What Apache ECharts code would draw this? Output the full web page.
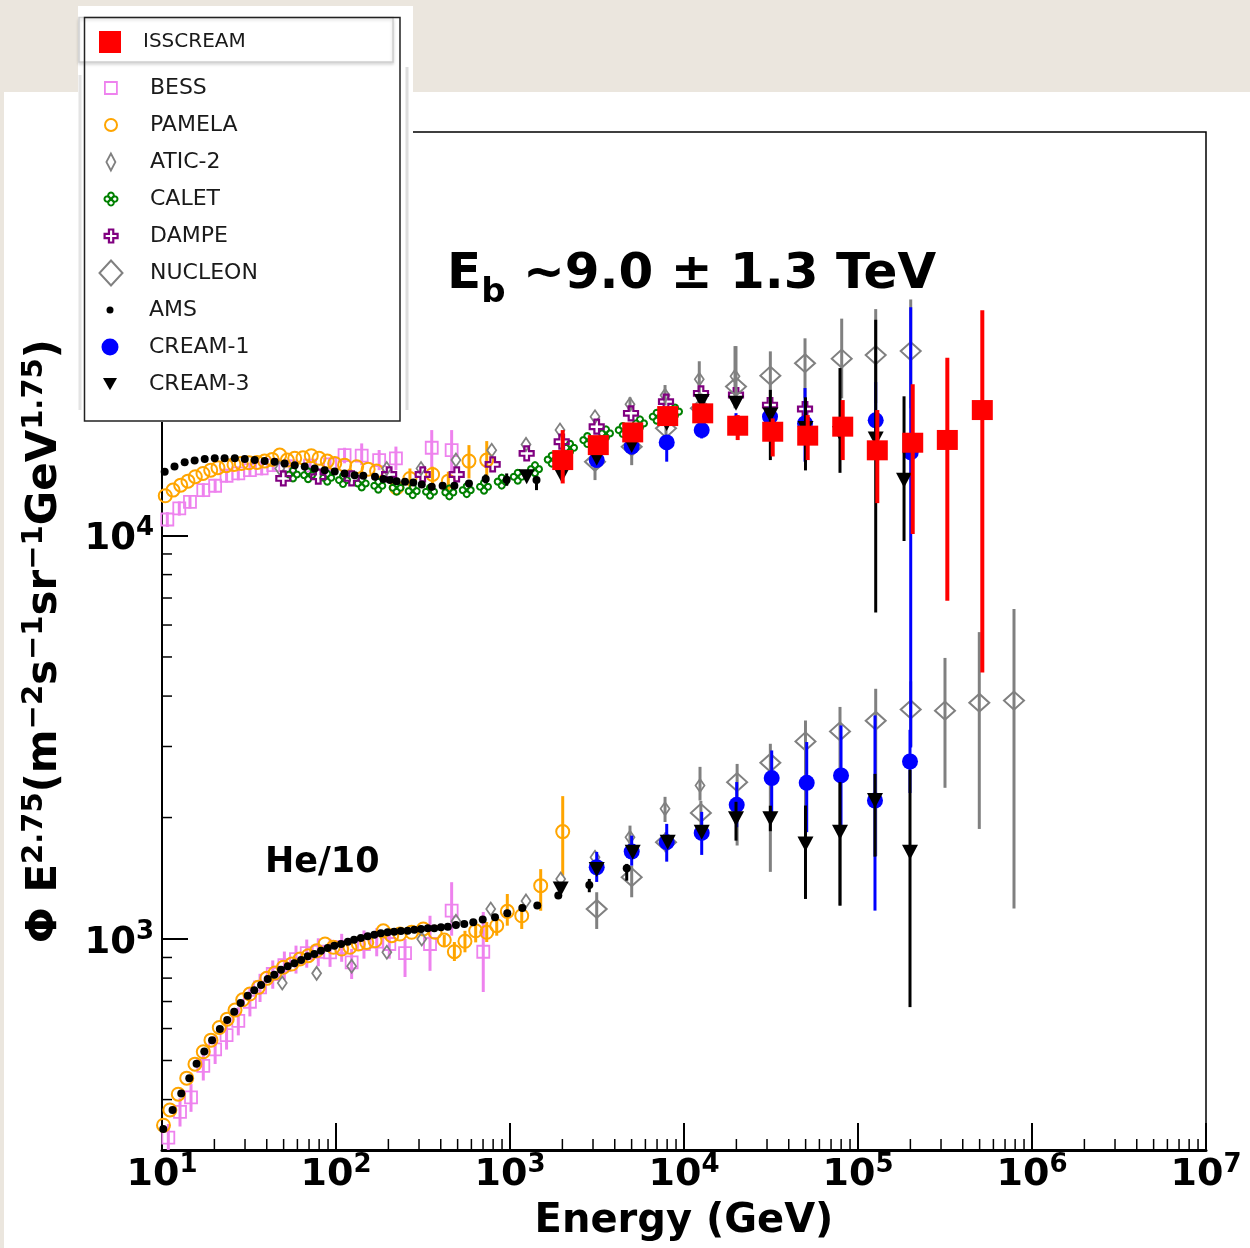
<!DOCTYPE html>
<html>
<head>
<meta charset="utf-8">
<script src="https://cdn.jsdelivr.net/npm/echarts@6/dist/echarts.min.js"></script>
<style>
html,body{margin:0;padding:0;background:#ffffff;}
#c{width:1250px;height:1248px;}
</style>
</head>
<body>
<div id="c"></div>
<script>
// ---------------- tick labels ----------------
const xTickExponents = [1, 2, 3, 4, 5, 6, 7];
const yTickExponents = [3, 4];
const minorMultipliers = [2, 3, 4, 5, 6, 7, 8, 9];

// ---------------- data: [E (GeV), flux, errLow, errHigh] ----------------
// protons
const isscreamP = [
  [2009, 15380, 13460, 18250], [3217, 16750, 16200, 17300], [5073, 18010, 17500, 18500],
  [8060, 19770, 19100, 20500], [12810, 20080, 19200, 21000], [20350, 18710, 17240, 19880],
  [32350, 18080, 15700, 19510], [51400, 17680, 15380, 19880], [81700, 18610, 15380, 21660],
  [129100, 16260, 12030, 20460], [206300, 16980, 10090, 23720], [326100, 17250, 6887, 27570],
  [518100, 20460, 4576, 36160]
];
const bessP = [
  [10.73, 10958, 10500, 11430], [12.57, 11668, 11200, 12150], [14.48, 12122, 11650, 12600],
  [17.27, 12956, 12450, 13480], [20.2, 13285, 12770, 13820], [23.5, 14063, 13520, 14630],
  [27.45, 14250, 13700, 14820], [32.0, 14521, 13960, 15100], [37.4, 14660, 14090, 15250],
  [43.6, 14942, 14360, 15540], [54.4, 14830, 14250, 15430], [70.9, 14900, 14320, 15500],
  [92.4, 15000, 14420, 15600], [112, 15823, 15100, 16500], [140.5, 15770, 14942, 16915],
  [177, 15378, 14520, 16290], [221, 15530, 14520, 16610], [355, 16500, 14660, 18250],
  [462, 16270, 14250, 18250]
];
const pamelaP = [
  [10.44, 12547], [11.57, 12956], [12.81, 13330], [14.1, 13637], [15.54, 13986], [17.2, 14250],
  [19.05, 14521], [20.98, 14723], [23.41, 14893], [25.93, 15003], [28.56, 15090], [31.6, 15150],
  [35.2, 15175], [38.9, 15290], [43.0, 15440], [47.5, 15823], [52.5, 15378], [57.9, 15530],
  [64.6, 15590], [72.1, 15770], [79.9, 15530], [89.1, 15290], [98.3, 15090], [112, 14942],
  [131.5, 14807], [153, 14604], [171, 14440], [223, 13132],
  [266, 13850, 13130, 14660], [359, 14168, 13330, 14807], [442, 13637, 12956, 14390],
  [581, 15290, 13850, 16750], [735, 15378, 13850, 17140]
];
const aticP = [
  [47.5, 14660], [195.6, 14660], [308, 14660], [489, 15378], [785, 16270], [1236, 16820],
  [1938, 18250], [3080, 19700], [4894, 21140, 20300, 22000], [7780, 22260, 21000, 23600],
  [12240, 24390, 21880, 27030], [19640, 24800, 20670, 29470]
];
const caletP = [
  [56.6, 14168], [69.1, 14110], [89.1, 13906], [109.7, 13720], [140.5, 13460], [175, 13285],
  [223, 13132], [276, 12883], [347, 12840], [448, 12790], [564, 12956], [709, 13210],
  [896, 13600], [1108, 13986], [1392, 14604], [1737, 15420], [2213, 16500], [2782, 17240],
  [3562, 17910], [4444, 18250], [5586, 18960], [6968, 19700], [8880, 20280]
];
const dampeP = [
  [49.8, 13850], [79.1, 13986], [123, 13850], [202, 14168], [315, 14168], [494, 14168],
  [795, 15003], [1247, 15977], [1982, 17080], [3150, 18605], [4960, 20080], [7880, 21470],
  [12520, 22510], [19900, 22290], [31210, 21050], [49600, 20580]
];
const nucleonP = [
  [3080, 15230, 13720, 16440], [5005, 16600, 14940, 17710], [7880, 18430, 17500, 19400],
  [12500, 20660, 19000, 22500], [19900, 23390, 20660, 29470], [31350, 24900, 20660, 28600],
  [49600, 26720, 21880, 30810], [80600, 27430, 21880, 34470], [126400, 28000, 21280, 36400],
  [200900, 28650, 20660, 38460]
];
const amsP = [
  [10.36, 14390], [11.8, 14830], [13.5, 15180], [15.4, 15350], [17.6, 15470], [20.1, 15530],
  [22.9, 15530], [26.2, 15530], [29.9, 15470], [34.1, 15380], [38.9, 15290], [44.4, 15230],
  [50.7, 15090], [57.9, 14940], [66.1, 14830], [75.4, 14660], [86.1, 14520], [98.3, 14410],
  [112, 14250], [128, 14110], [143.5, 14060], [167.6, 13986], [187, 13800], [204.3, 13720],
  [223, 13637], [249.3, 13590], [278, 13530], [311, 13380], [355, 13210], [410, 13280],
  [479, 13280], [581, 13460], [725, 13800, 13460, 14170], [957, 13750, 13285, 14250],
  [1420, 13720, 12956, 13986]
];
const cream1P = [
  [3150, 15378, 14800, 16000], [5005, 16600, 15900, 17300], [7956, 17010, 15240, 17720],
  [12640, 18250, 17400, 19100], [19900, 18960, 17800, 20100], [31210, 19700, 18500, 20900],
  [49600, 18960, 15240, 23200], [126400, 19290, 15500, 24000], [200900, 16070, 2984, 36790]
];
const cream3P = [
  [1247, 13986], [1982, 14110], [3150, 15530], [5005, 16720], [7956, 18960], [12640, 21470],
  [19900, 21280], [31350, 19880, 15380, 22960], [49900, 18420, 14500, 22000],
  [78800, 17910, 14300, 26000], [126400, 17340, 6446, 34240], [183900, 13710, 9691, 22130]
];
// helium (/10)
const bessHe = [
  [10.87, 322, 296, 348], [12.69, 373, 343, 403], [14.68, 405, 373, 437], [17.27, 485, 446, 524],
  [20.2, 533, 490, 576], [23.5, 578, 532, 624], [27.45, 627, 577, 677], [32.0, 699, 643, 755],
  [36.6, 759, 698, 820], [43.3, 819, 753, 885], [50.5, 862, 793, 931], [58.9, 892, 821, 963],
  [67.9, 923, 849, 997], [79.1, 930, 856, 1004], [92.4, 927, 853, 1001], [107.8, 954, 878, 1030],
  [123, 875, 796, 945], [144.8, 972, 894, 1050], [171.4, 985, 906, 1064], [202.5, 972, 894, 1050],
  [249.3, 923, 805, 1000], [347, 972, 834, 1142], [462, 1176, 1019, 1383], [702, 930, 739, 1167]
];
const pamelaHe = [
  [10.2, 345.5], [11.1, 377], [12.4, 412.5], [13.87, 452], [15.47, 489.6], [17.27, 525.4],
  [19.12, 561.5], [21.35, 603.7], [23.7, 633], [26.28, 666.6], [29.1, 707], [32.0, 730.6],
  [35.8, 759], [40.0, 799], [44.6, 823.5], [49.8, 851], [55.7, 867], [62.1, 892], [69.3, 909],
  [77.4, 935], [86.5, 972], [96.5, 954], [107.8, 944.5], [120.3, 954], [134.4, 972],
  [150.2, 981], [167.6, 990], [187, 1048], [209, 1019], [233, 1029], [272, 1039], [317.5, 1059],
  [371, 1039], [419, 994, 955, 1023], [479, 930, 882, 983], [551, 987, 927, 1048],
  [635, 1048, 981, 1110], [735, 1039, 983, 1102], [839, 1079, 1019, 1143],
  [965, 1171, 1079, 1293], [1168, 1142, 1059, 1221], [1501, 1356, 1175, 1490],
  [2009, 1846, 1436, 2260]
];
const aticHe = [
  [49.1, 778], [77.4, 822], [123, 856], [196, 927], [311, 1000], [489, 1106], [775, 1187],
  [1236, 1243], [1956, 1409], [3080, 1595], [4894, 1788, 1672, 1910], [7780, 2102, 1950, 2251],
  [12360, 2401, 2204, 2671]
];
const nucleonHe = [
  [3150, 1187, 1059, 1306], [5005, 1423, 1269, 1520], [7880, 1738, 1640, 1840],
  [12500, 2054, 1900, 2200], [20200, 2448, 1705, 2716], [31350, 2734, 1467, 3047],
  [49900, 3088, 1257, 3480], [78800, 3269, 1210, 3760], [126400, 3475, 1606, 4170],
  [200900, 3705, 3000, 4350], [316200, 3680, 2370, 4973], [497800, 3851, 1874, 5762],
  [788000, 3898, 1190, 6575]
];
const amsHe = [
  [10.17, 338], [11.5, 377], [12.9, 414], [14.35, 452], [15.8, 491], [17.5, 526], [19.4, 561],
  [21.5, 598], [23.7, 630], [26.0, 660], [28.3, 694], [31.1, 723], [33.9, 747], [37.1, 769],
  [40.5, 796], [44.2, 815], [48.3, 839], [52.8, 856], [57.6, 871], [63.0, 887], [68.8, 906],
  [75.1, 918], [82.0, 935], [89.6, 950], [97.8, 962], [107, 972], [117, 985], [127, 996],
  [139, 1006], [152, 1016], [166, 1025], [181, 1033], [198, 1039], [216, 1043], [236, 1047],
  [258, 1049], [282, 1055], [308, 1059], [337, 1063], [367, 1063], [401, 1069], [439, 1073],
  [489, 1083], [546, 1089], [615, 1100], [697, 1117], [820, 1132], [965, 1158], [1177, 1194],
  [1435, 1210], [1895, 1281], [2856, 1361, 1306, 1409], [4686, 1497, 1395, 1535]
];
const cream1He = [
  [3150, 1506, 1385, 1644], [5005, 1647, 1520, 1804], [7956, 1738, 1555, 1929],
  [12640, 1832, 1616, 2066], [20090, 2150, 1893, 2449], [31920, 2505, 2043, 2933],
  [50730, 2438, 1840, 3077], [79870, 2543, 1900, 3383], [125200, 2204, 1176, 3582],
  [199000, 2754, 2300, 3300]
];
const cream3He = [
  [1956, 1331], [3150, 1486], [5073, 1641], [8060, 1738], [12640, 1840],
  [19900, 1985, 1753, 2188], [31350, 1985, 1850, 2140], [49900, 1720, 1257, 2142],
  [78800, 1840, 1210, 2448], [125200, 2204, 1600, 2566], [199000, 1641, 678, 2627]
];

// ---------------- styles ----------------
const FONT = 'DejaVu Sans';
const CLEAR = 'rgba(0,0,0,0)';
function ring(cx, cy, r) {
  let s = '';
  for (let i = 0; i <= 12; i++) {
    const a = i / 12 * 2 * Math.PI;
    s += (i ? 'L' : 'M') + (cx + r * Math.cos(a)).toFixed(2) + ',' + (cy + r * Math.sin(a)).toFixed(2);
  }
  return s + 'Z';
}
const CLOVER = 'path://' + ring(0, -3, 2.3) + ring(3, 0, 2.3) + ring(0, 3, 2.3) + ring(-3, 0, 2.3);
const PLUS = 'path://M-1,-3L1,-3L1,-1L3,-1L3,1L1,1L1,3L-1,3L-1,1L-3,1L-3,-1L-1,-1Z';
const TRI_DOWN = 'path://M0,0L2,0L1,1.75Z';

const STY = {
  'BESS':     {symbol: 'rect', size: 12, item: {color: CLEAR, borderColor: '#ee82ee', borderWidth: 1.8}, bar: '#ee82ee', barW: 3},
  'PAMELA':   {symbol: 'circle', size: 13, item: {color: CLEAR, borderColor: '#ffa500', borderWidth: 2}, bar: '#ffa500', barW: 3},
  'ATIC-2':   {symbol: 'diamond', size: [9, 13], item: {color: CLEAR, borderColor: '#808080', borderWidth: 1.8}, bar: '#808080', barW: 3},
  'CALET':    {symbol: CLOVER, size: 14, item: {color: CLEAR, borderColor: '#008000', borderWidth: 2}, bar: '#008000', barW: 3},
  'DAMPE':    {symbol: PLUS, size: 14, item: {color: CLEAR, borderColor: '#800080', borderWidth: 2.2}, bar: '#800080', barW: 3},
  'NUCLEON':  {symbol: 'diamond', size: [20, 18], item: {color: CLEAR, borderColor: '#808080', borderWidth: 2}, bar: '#808080', barW: 3},
  'AMS':      {symbol: 'circle', size: 8, item: {color: '#000000'}, bar: '#000000', barW: 3},
  'CREAM-1':  {symbol: 'circle', size: 16, item: {color: '#0000ff'}, bar: '#0000ff', barW: 3},
  'CREAM-3':  {symbol: TRI_DOWN, size: [16, 15], item: {color: '#000000'}, bar: '#000000', barW: 3},
  'ISSCREAM': {symbol: 'rect', size: [21, 20], item: {color: '#ff0000'}, bar: '#ff0000', barW: 4}
};

const sets = [
  ['BESS', [bessP, bessHe]],
  ['PAMELA', [pamelaP, pamelaHe]],
  ['ATIC-2', [aticP, aticHe]],
  ['CALET', [caletP]],
  ['DAMPE', [dampeP]],
  ['NUCLEON', [nucleonP, nucleonHe]],
  ['AMS', [amsP, amsHe]],
  ['CREAM-1', [cream1P, cream1He]],
  ['CREAM-3', [cream3P, cream3He]],
  ['ISSCREAM', [isscreamP]]
];

function errSeries(name, data, color, width, z) {
  return {
    type: 'custom', name: name, data: data, z: z, silent: true, clip: true,
    dimensions: ['x', 'y', 'lo', 'hi'],
    encode: {x: 0, y: 1},
    renderItem: function (params, api) {
      const x = api.value(0), lo = api.value(2), hi = api.value(3);
      if (!(hi > lo)) return null;
      const a = api.coord([x, lo]), b = api.coord([x, hi]);
      return {type: 'line', shape: {x1: a[0], y1: a[1], x2: b[0], y2: b[1]},
              style: {stroke: color, lineWidth: width}};
    }
  };
}

const series = [];
sets.forEach(function (s, i) {
  const name = s[0], st = STY[name];
  s[1].forEach(function (arr) {
    series.push(errSeries(name, arr, st.bar, st.barW, 3 + i));
    series.push({
      type: 'scatter', name: name, data: arr, z: 3 + i, silent: true,
      symbol: st.symbol, symbolSize: st.size,
      itemStyle: Object.assign({opacity: 1}, st.item),
      emphasis: {disabled: true}
    });
  });
});

// minor ticks (log positions 2..9 within each decade)
const xMinor = [], yMinor = [];
for (let d = 1; d <= 6; d++) minorMultipliers.forEach(m => xMinor.push([m * Math.pow(10, d), 300]));
for (let d = 2; d <= 4; d++) minorMultipliers.forEach(m => { const v = m * Math.pow(10, d); if (v > 300 && v < 1e5) yMinor.push([10, v]); });
series.push({
  type: 'custom', name: 'xminor', data: xMinor, z: 20, silent: true,
  renderItem: function (p, api) {
    const c = api.coord([api.value(0), api.value(1)]);
    return {type: 'line', shape: {x1: c[0], y1: c[1], x2: c[0], y2: c[1] - 11}, style: {stroke: '#000', lineWidth: 1.5}};
  }
});
series.push({
  type: 'custom', name: 'yminor', data: yMinor, z: 20, silent: true,
  renderItem: function (p, api) {
    const c = api.coord([api.value(0), api.value(1)]);
    return {type: 'line', shape: {x1: c[0], y1: c[1], x2: c[0] + 10, y2: c[1]}, style: {stroke: '#000', lineWidth: 1.5}};
  }
});

function pow10(v, list) {
  const e = Math.log10(v), r = Math.round(e);
  return (Math.abs(e - r) < 1e-6 && list.indexOf(r) >= 0) ? r : null;
}

// legends (one per row so each icon can have its own size)
const legendRows = [
  {name: 'ISSCREAM', icon: 'rect', w: 22, h: 22, cy: 42, tx: 143, fs: 20},
  {name: 'BESS', icon: 'rect', w: 12, h: 12, cy: 88, tx: 149, fs: 22},
  {name: 'PAMELA', icon: 'circle', w: 12, h: 12, cy: 125, tx: 149, fs: 22},
  {name: 'ATIC-2', icon: 'diamond', w: 9, h: 17, cy: 162, tx: 149, fs: 22},
  {name: 'CALET', icon: CLOVER, w: 13, h: 13, cy: 199, tx: 149, fs: 22},
  {name: 'DAMPE', icon: PLUS, w: 13, h: 13, cy: 236, tx: 149, fs: 22},
  {name: 'NUCLEON', icon: 'diamond', w: 23, h: 25, cy: 272, tx: 149, fs: 22},
  {name: 'AMS', icon: 'circle', w: 7, h: 7, cy: 310, tx: 149, fs: 22},
  {name: 'CREAM-1', icon: 'circle', w: 17, h: 19, cy: 347, tx: 149, fs: 22},
  {name: 'CREAM-3', icon: TRI_DOWN, w: 14, h: 17, cy: 384, tx: 149, fs: 22}
];
const legends = legendRows.map(function (r) {
  const left = 110 - r.w / 2;
  const st = STY[r.name].item;
  const ist = {color: st.color, borderColor: st.borderColor || st.color, borderWidth: st.borderWidth || 0, opacity: 1};
  const boxH = Math.max(r.h, r.fs);
  return {
    show: true, left: left, top: r.cy - boxH / 2, itemWidth: r.w, itemHeight: r.h,
    padding: 0, z: 60, selectedMode: false, orient: 'vertical',
    data: [{name: r.name, icon: r.icon, itemStyle: ist}],
    textStyle: {fontFamily: FONT, fontSize: r.fs, color: '#1a1a1a', padding: [0, 0, 0, r.tx - (left + r.w + 5)]}
  };
});

const chart = echarts.init(document.getElementById('c'), null, {renderer: 'canvas'});
chart.setOption({
  animation: false,
  backgroundColor: '#ffffff',
  textStyle: {fontFamily: FONT},
  grid: {left: 162, right: 44, top: 132, bottom: 98, show: true, borderColor: '#000', borderWidth: 1.5,
         backgroundColor: 'rgba(0,0,0,0)', containLabel: false, outerBoundsMode: 'none'},
  legend: legends,
  xAxis: {
    type: 'log', logBase: 10, min: 10, max: 1e7,
    axisLine: {show: true, lineStyle: {color: '#000', width: 3}},
    axisTick: {show: true, inside: true, length: 27, lineStyle: {color: '#000', width: 2}},
    splitLine: {show: false}, minorTick: {show: false},
    axisLabel: {
      margin: 2, color: '#000',
      formatter: function (v) { const r = pow10(v, xTickExponents); return r === null ? '' : '{b|10}{s|' + r + '}'; },
      rich: {
        b: {fontFamily: FONT, fontWeight: 'bold', fontSize: 38, lineHeight: 46, color: '#000'},
        s: {fontFamily: FONT, fontWeight: 'bold', fontSize: 26, lineHeight: 26, verticalAlign: 'top', color: '#000'}
      }
    },
    name: 'Energy (GeV)', nameLocation: 'middle', nameGap: 52,
    nameTextStyle: {fontFamily: FONT, fontWeight: 'bold', fontSize: 40, color: '#000'}
  },
  yAxis: {
    type: 'log', logBase: 10, min: 300, max: 1e5,
    axisLine: {show: true, lineStyle: {color: '#000', width: 2}},
    axisTick: {show: true, inside: true, length: 26, lineStyle: {color: '#000', width: 2}},
    splitLine: {show: false}, minorTick: {show: false},
    axisLabel: {
      margin: 8, color: '#000',
      formatter: function (v) { const r = pow10(v, yTickExponents); return r === null ? '' : '{b|10}{s|' + r + '}'; },
      rich: {
        b: {fontFamily: FONT, fontWeight: 'bold', fontSize: 37, lineHeight: 40, color: '#000', padding: [8, 0, 0, 0]},
        s: {fontFamily: FONT, fontWeight: 'bold', fontSize: 26, lineHeight: 26, verticalAlign: 'top', color: '#000'}
      }
    },
    name: '{a|Φ E}{s|2.75}{a|(m}{s|−2}{a|s}{s|−1}{a|sr}{s|−1}{a|GeV}{s|1.75}{a|)}',
    nameLocation: 'middle', nameRotate: 90, nameGap: 92,
    nameTextStyle: {
      rich: {
        a: {fontFamily: FONT, fontWeight: 'bold', fontSize: 42, lineHeight: 50, color: '#000'},
        s: {fontFamily: FONT, fontWeight: 'bold', fontSize: 29, lineHeight: 29, verticalAlign: 'top', color: '#000'}
      }
    }
  },
  graphic: [
    {type: 'rect', shape: {x: 0, y: 0, width: 1250, height: 92}, style: {fill: '#ebe6de'}, z: -100, silent: true},
    {type: 'rect', shape: {x: 0, y: 0, width: 4, height: 1248}, style: {fill: '#ebe6de'}, z: -100, silent: true},
    {type: 'rect', shape: {x: 78, y: 6, width: 335, height: 416}, style: {fill: '#ffffff'}, z: 50, silent: true},
    {type: 'line', shape: {x1: 80, y1: 75, x2: 80, y2: 410}, style: {stroke: '#e4e4e4', lineWidth: 3}, z: 51, silent: true},
    {type: 'line', shape: {x1: 407, y1: 67, x2: 407, y2: 410}, style: {stroke: '#dedede', lineWidth: 3}, z: 51, silent: true},
    {type: 'rect', shape: {x: 79, y: 17.5, width: 314, height: 44.5},
     style: {fill: '#ffffff', stroke: '#cfcfcf', lineWidth: 1.5, shadowBlur: 3, shadowOffsetY: 2, shadowColor: 'rgba(0,0,0,0.15)'}, z: 52, silent: true},
    {type: 'rect', shape: {x: 84.5, y: 17.5, width: 315.5, height: 403.5},
     style: {fill: 'none', stroke: '#222222', lineWidth: 1.5}, z: 53, silent: true},
    {type: 'text', x: 447, y: 240, z: 40, silent: true,
     style: {text: '{a|E}{b|b}{a| ~9.0 ± 1.3 TeV}', verticalAlign: 'top', align: 'left',
       rich: {
         a: {fontFamily: FONT, fontWeight: 'bold', fontSize: 50, lineHeight: 70, fill: '#000'},
         b: {fontFamily: FONT, fontWeight: 'bold', fontSize: 34, lineHeight: 34, verticalAlign: 'bottom', fill: '#000'}
       }}},
    {type: 'text', x: 265, y: 845, z: 40, silent: true,
     style: {text: 'He/10', fontFamily: FONT, fontWeight: 'bold', fontSize: 35, lineHeight: 35, fill: '#000', verticalAlign: 'top', align: 'left'}}
  ],
  series: series
});
</script>
</body>
</html>
